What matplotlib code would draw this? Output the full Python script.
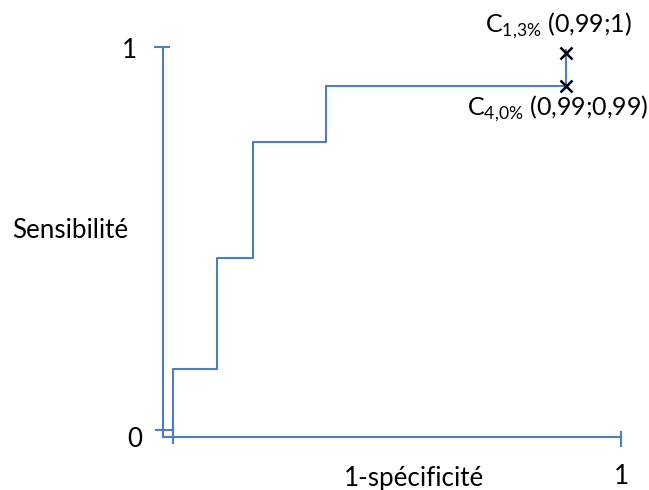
import matplotlib
matplotlib.use('Agg')
import matplotlib.pyplot as plt

plt.rcParams['font.family'] = ['Lato', 'DejaVu Sans']
plt.rcParams['mathtext.fontset'] = 'custom'
plt.rcParams['mathtext.rm'] = 'Lato'

# ROC curve (schematic), steps-pre drawing
fpr = [0, 0.098, 0.179, 0.342, 0.877, 0.877]
tpr = [0, 0.159, 0.449, 0.752, 0.898, 0.992]

# cut-off points marked with "x"
cut_x = [0.877, 0.877]
cut_y = [0.984, 0.898]
cut_labels = [r'C$_{\mathregular{1{,}3\%}}$ (0,99;1)', r'C$_{\mathregular{4{,}0\%}}$ (0,99;0,99)']

blue = '#4A7EC7'
W, H = 649, 490

fig = plt.figure(figsize=(W / 100, H / 100), dpi=100)
ax = fig.add_axes([0, 0, 1, 1])
ax.set_xlim(-173 / 448, (W - 173) / 448)
ax.set_ylim((430 - H) / 383, 430 / 383)
ax.axis('off')

# hand drawn axes
ax_x, ax_y = -0.022, -0.018
ax.plot([ax_x, ax_x], [ax_y, 1.0], color=blue, lw=1.5)
ax.plot([ax_x, 1.0], [ax_y, ax_y], color=blue, lw=1.5)
ax.plot([-0.040, -0.009], [1.0, 1.0], color=blue, lw=1.5)
ax.plot([-0.038, -0.005], [0, 0], color=blue, lw=1.5)
ax.plot([0, 0], [0.013, -0.034], color=blue, lw=1.5)
ax.plot([1.0, 1.0], [-0.005, -0.042], color=blue, lw=1.5)

ax.plot(fpr, tpr, drawstyle='steps-pre', color=blue, lw=1.5)
ax.plot(cut_x, cut_y, 'x', color='black', ms=8, mew=1.8)

fs = 18.7
ax.text(cut_x[0] - 0.181, 1.037, cut_labels[0], fontsize=18, ha='left', va='baseline')
ax.text(cut_x[1] - 0.221, 0.822, cut_labels[1], fontsize=18, ha='left', va='baseline')

ax.text(-0.098, 0.971, '1', fontsize=fs, ha='center', va='baseline')
ax.text(-0.086, -0.044, '0', fontsize=fs, ha='center', va='baseline')
ax.text(1.0, -0.140, '1', fontsize=fs, ha='center', va='baseline')
ax.text(-0.230, 0.501, 'Sensibilité', fontsize=fs, ha='center', va='baseline')
ax.text(0.537, -0.146, '1-spécificité', fontsize=fs, ha='center', va='baseline')

fig.savefig('out.png', dpi=100)
